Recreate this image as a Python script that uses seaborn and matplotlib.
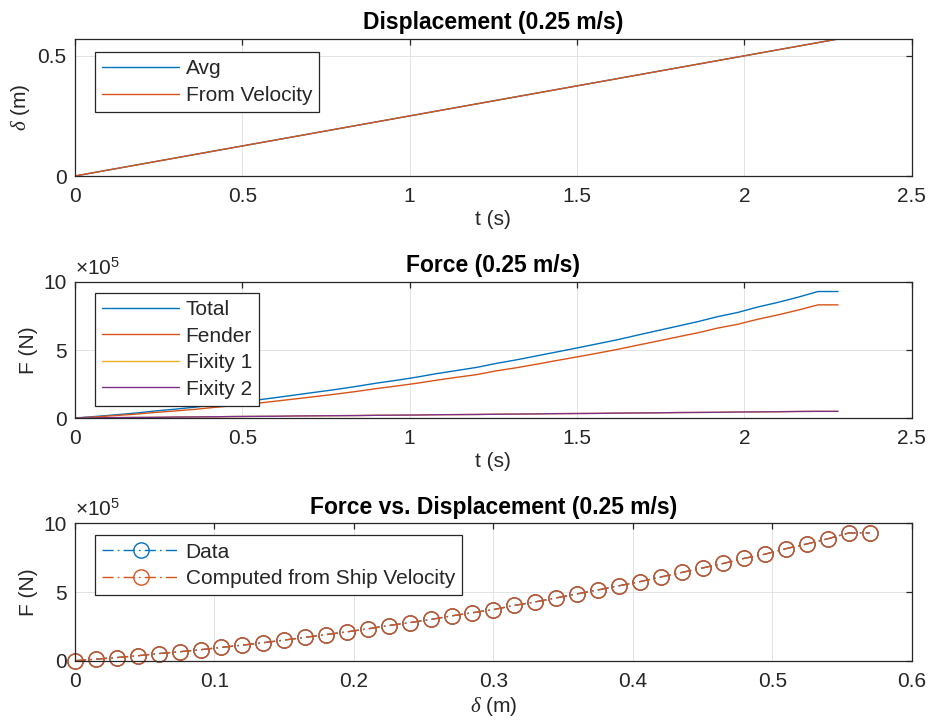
import numpy as np
import pandas as pd
import matplotlib
matplotlib.use("Agg")
import matplotlib.pyplot as plt
from matplotlib.ticker import FuncFormatter, MultipleLocator
import seaborn as sns

# ---- measured data (ship impact, 0.25 m/s) ----
time_s = [0.00, 0.06, 0.12, 0.18, 0.24, 0.30, 0.36, 0.42, 0.48, 0.54,
          0.60, 0.66, 0.72, 0.78, 0.84, 0.90, 0.96, 1.02, 1.08, 1.14,
          1.20, 1.26, 1.32, 1.38, 1.44, 1.50, 1.56, 1.62, 1.68, 1.74,
          1.80, 1.86, 1.92, 1.98, 2.04, 2.10, 2.16, 2.22, 2.28]

# displacement (m)
disp_avg_m = [0.000, 0.015, 0.030, 0.045, 0.060, 0.075, 0.090, 0.105, 0.120, 0.135,
              0.150, 0.165, 0.180, 0.195, 0.210, 0.225, 0.240, 0.255, 0.270, 0.285,
              0.300, 0.315, 0.330, 0.345, 0.360, 0.375, 0.390, 0.405, 0.420, 0.435,
              0.450, 0.465, 0.480, 0.495, 0.510, 0.525, 0.540, 0.555, 0.570]
disp_vel_m = [0.000, 0.015, 0.030, 0.045, 0.060, 0.075, 0.090, 0.105, 0.120, 0.135,
              0.150, 0.165, 0.180, 0.195, 0.210, 0.225, 0.240, 0.255, 0.270, 0.285,
              0.300, 0.315, 0.330, 0.345, 0.360, 0.375, 0.390, 0.405, 0.420, 0.435,
              0.450, 0.465, 0.480, 0.495, 0.510, 0.525, 0.540, 0.555, 0.570]

# forces in units of 1e5 N
total_1e5 = [0.00, 0.11, 0.23, 0.36, 0.52, 0.65, 0.80, 0.97, 1.13, 1.31,
             1.50, 1.70, 1.90, 2.10, 2.32, 2.56, 2.77, 3.00, 3.26, 3.49,
             3.72, 4.02, 4.28, 4.57, 4.86, 5.15, 5.45, 5.75, 6.09, 6.42,
             6.75, 7.08, 7.45, 7.76, 8.16, 8.50, 8.88, 9.30, 9.30]
fender_1e5 = [0.00, 0.08, 0.18, 0.28, 0.41, 0.52, 0.64, 0.79, 0.92, 1.07,
              1.24, 1.41, 1.58, 1.76, 1.95, 2.16, 2.35, 2.55, 2.78, 2.99,
              3.19, 3.47, 3.70, 3.96, 4.23, 4.49, 4.76, 5.04, 5.35, 5.65,
              5.96, 6.26, 6.61, 6.89, 7.26, 7.58, 7.93, 8.32, 8.32]
fixity1_1e5 = [0.00, 0.01, 0.03, 0.04, 0.05, 0.07, 0.08, 0.09, 0.11, 0.12,
               0.13, 0.15, 0.16, 0.17, 0.18, 0.20, 0.21, 0.22, 0.24, 0.25,
               0.26, 0.28, 0.29, 0.30, 0.32, 0.33, 0.34, 0.36, 0.37, 0.38,
               0.40, 0.41, 0.42, 0.44, 0.45, 0.46, 0.48, 0.49, 0.49]
fixity2_1e5 = [0.00, 0.01, 0.03, 0.04, 0.05, 0.07, 0.08, 0.09, 0.11, 0.12,
               0.13, 0.15, 0.16, 0.17, 0.18, 0.20, 0.21, 0.22, 0.24, 0.25,
               0.26, 0.28, 0.29, 0.30, 0.32, 0.33, 0.34, 0.36, 0.37, 0.38,
               0.40, 0.41, 0.42, 0.44, 0.45, 0.46, 0.48, 0.49, 0.49]

df = pd.DataFrame({
    "t": time_s, "d_avg": disp_avg_m, "d_vel": disp_vel_m,
    "total": total_1e5, "fender": fender_1e5,
    "fix1": fixity1_1e5, "fix2": fixity2_1e5,
})

# ---- style ----
sns.set_theme(style="white")
plt.rcParams["font.family"] = ["Liberation Sans", "DejaVu Sans"]
plt.rcParams["mathtext.fontset"] = "custom"
plt.rcParams["mathtext.rm"] = "Liberation Sans"
plt.rcParams["mathtext.it"] = "Liberation Serif:italic"

BLUE, ORANGE, YELLOW, PURPLE = "#0072BD", "#D95319", "#EDB120", "#7E2F8E"
DARK = "#262626"
FS = 15
TFS = 16.5
LW = 1.0

fig = plt.figure(figsize=(9.31, 7.27), dpi=100)
fig.patch.set_facecolor("white")

W = 931.0
H = 727.0


def make_axes(left, top, right, bottom):
    return fig.add_axes([left / W, 1 - bottom / H, (right - left) / W, (bottom - top) / H])


ax1 = make_axes(75, 39, 911.7, 176)
ax2 = make_axes(75, 282, 911.7, 418)
ax3 = make_axes(75, 523.3, 911.7, 660.7)

fmt = FuncFormatter(lambda v, p: f"{v:g}")


def style_axes(ax, xmax, xstep, ymax, ystep):
    ax.set_xlim(0, xmax)
    ax.set_ylim(0, ymax)
    ax.xaxis.set_major_locator(MultipleLocator(xstep))
    ax.yaxis.set_major_locator(MultipleLocator(ystep))
    ax.xaxis.set_major_formatter(fmt)
    ax.yaxis.set_major_formatter(fmt)
    ax.grid(True, color="#dedede", linewidth=0.6)
    ax.set_axisbelow(True)
    for s in ax.spines.values():
        s.set_color(DARK)
        s.set_linewidth(0.9)
        s.set_visible(True)
    ax.tick_params(direction="in", length=4.5, width=0.9, color=DARK,
                   top=True, right=True, labelsize=FS, labelcolor=DARK)
    ax.tick_params(axis="x", pad=8)
    ax.tick_params(axis="y", pad=6)
    ax.set_facecolor("white")


def add_legend(ax, anchor):
    leg = ax.legend(loc="upper left", bbox_to_anchor=anchor, borderaxespad=0,
                    fontsize=FS, frameon=True, fancybox=False, framealpha=1,
                    edgecolor=DARK, handlelength=3.7, handletextpad=0.3,
                    borderpad=0.35, labelspacing=0.36)
    leg.get_frame().set_linewidth(0.9)
    for t in leg.get_texts():
        t.set_color(DARK)
    return leg


# ---- displacement vs time ----
sns.lineplot(data=df, x="t", y="d_avg", ax=ax1, color=BLUE, lw=LW, label="Avg",
             estimator=None, sort=False)
sns.lineplot(data=df, x="t", y="d_vel", ax=ax1, color=ORANGE, lw=LW, label="From Velocity",
             estimator=None, sort=False)
style_axes(ax1, 2.5, 0.5, max(disp_vel_m), 0.5)
ax1.set_title("Displacement (0.25 m/s)", fontsize=TFS, fontweight="bold", pad=7, color="black")
ax1.set_xlabel("t (s)", fontsize=FS, labelpad=3, color=DARK)
ax1.set_ylabel(r"$\delta$ (m)", fontsize=FS, labelpad=4, color=DARK)
add_legend(ax1, (20 / 836.7, 1 - 13 / 137))

# ---- force vs time ----
for col, c, lab in [("total", BLUE, "Total"), ("fender", ORANGE, "Fender"),
                    ("fix1", YELLOW, "Fixity 1"), ("fix2", PURPLE, "Fixity 2")]:
    sns.lineplot(data=df, x="t", y=col, ax=ax2, color=c, lw=LW, label=lab,
                 estimator=None, sort=False)
style_axes(ax2, 2.5, 0.5, 10, 5)
ax2.set_title("Force (0.25 m/s)", fontsize=TFS, fontweight="bold", pad=7, color="black")
ax2.set_xlabel("t (s)", fontsize=FS, labelpad=3, color=DARK)
ax2.set_ylabel("F (N)", fontsize=FS, labelpad=4, color=DARK)
ax2.text(0.0, 1.025, r"$\mathregular{\times10^{5}}$", transform=ax2.transAxes,
         ha="left", va="bottom", fontsize=FS, color=DARK)
add_legend(ax2, (20 / 836.7, 1 - 11 / 136))

# ---- force vs displacement ----
mk = dict(marker="o", markersize=11, markerfacecolor="none", markeredgewidth=1.0,
          clip_on=False, estimator=None, sort=False, lw=LW)
sns.lineplot(data=df, x="d_avg", y="total", ax=ax3, color=BLUE, label="Data", **mk)
sns.lineplot(data=df, x="d_vel", y="total", ax=ax3, color=ORANGE,
             label="Computed from Ship Velocity", **mk)
for ln in ax3.get_lines():
    ln.set_dashes((8, 3, 1.2, 3))
    ln.set_markeredgecolor(ln.get_color())
style_axes(ax3, 0.6, 0.1, 10, 5)
ax3.set_title("Force vs. Displacement (0.25 m/s)", fontsize=TFS, fontweight="bold", pad=7,
              color="black")
ax3.set_xlabel(r"$\delta$ (m)", fontsize=FS, labelpad=3, color=DARK)
ax3.set_ylabel("F (N)", fontsize=FS, labelpad=4, color=DARK)
ax3.text(0.0, 1.025, r"$\mathregular{\times10^{5}}$", transform=ax3.transAxes,
         ha="left", va="bottom", fontsize=FS, color=DARK)
add_legend(ax3, (20 / 836.7, 1 - 12 / 137.4))

fig.savefig("out.png", dpi=100, facecolor="white")
